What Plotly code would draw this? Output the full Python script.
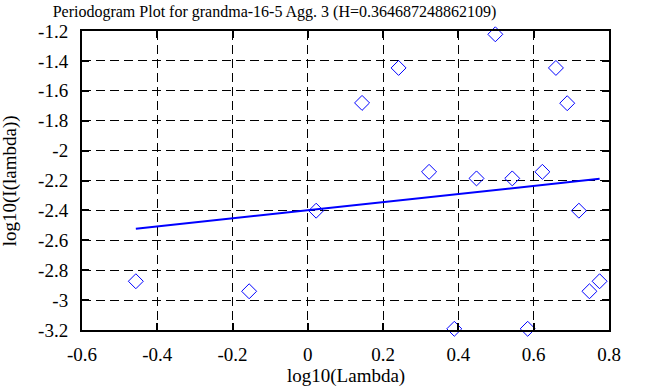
import plotly.graph_objects as go

title = "Periodogram Plot for grandma-16-5 Agg. 3 (H=0.364687248862109)"
x_label = "log10(Lambda)"
y_label = "log10(I(lambda))"

log_lambda = [-0.457, -0.156, 0.022, 0.144, 0.241, 0.322, 0.389, 0.448, 0.498,
              0.543, 0.584, 0.623, 0.659, 0.689, 0.720, 0.748, 0.775]
log_I = [-2.874, -2.941, -2.402, -1.681, -1.447, -2.142, -3.192, -2.186, -1.222,
         -2.186, -3.192, -2.142, -1.447, -1.683, -2.402, -2.941, -2.874]

fit_x = [-0.457, 0.775]
fit_y = [-2.522, -2.189]

x_ticks = [-0.6, -0.4, -0.2, 0, 0.2, 0.4, 0.6, 0.8]
x_ticktext = ["-0.6", "-0.4", "-0.2", "0", "0.2", "0.4", "0.6", "0.8"]
y_ticks = [-3.2, -3, -2.8, -2.6, -2.4, -2.2, -2, -1.8, -1.6, -1.4, -1.2]
y_ticktext = ["-3.2", "-3", "-2.8", "-2.6", "-2.4", "-2.2", "-2", "-1.8", "-1.6", "-1.4", "-1.2"]

FONT = "Liberation Serif, Times New Roman, serif"
TICK_SIZE = 19

fig = go.Figure()
fig.add_trace(go.Scatter(x=log_lambda, y=log_I, mode="markers",
                         marker=dict(symbol="diamond-open", size=11.5, color="#0000ff",
                                     line=dict(width=1, color="#0000ff")),
                         cliponaxis=False, showlegend=False))
fig.add_trace(go.Scatter(x=fit_x, y=fit_y, mode="lines",
                         line=dict(color="#0000ff", width=2), showlegend=False))

axis_common = dict(showline=True, linecolor="black", linewidth=2, mirror="allticks",
                   ticks="inside", ticklen=7, tickcolor="black", tickwidth=2,
                   showgrid=True, gridcolor="black", gridwidth=1, griddash="9px,5px",
                   zeroline=False, automargin=False,
                   tickfont=dict(family=FONT, size=TICK_SIZE, color="black"))

fig.update_xaxes(range=[-0.6, 0.8], tickvals=x_ticks, ticktext=x_ticktext,
                 ticklabelstandoff=6, **axis_common)
fig.update_yaxes(range=[-3.2, -1.2], tickvals=y_ticks, ticktext=y_ticktext,
                 ticklabelstandoff=8, **axis_common)

fig.update_layout(
    width=663, height=387,
    margin=dict(l=82, r=54, t=31, b=56.5),
    paper_bgcolor="white", plot_bgcolor="white",
    title=dict(text=title, x=0.414, xanchor="center", y=0.985, yanchor="top",
               font=dict(family=FONT, size=16, color="black")),
    annotations=[
        dict(text=x_label, xref="paper", yref="paper", x=0.5, y=-0.155,
             xanchor="center", yanchor="middle", showarrow=False,
             font=dict(family=FONT, size=TICK_SIZE, color="black")),
        dict(text=y_label, xref="paper", yref="paper", x=-0.137, y=0.5,
             xanchor="center", yanchor="middle", textangle=-90, showarrow=False,
             font=dict(family=FONT, size=TICK_SIZE, color="black")),
    ],
)

fig.write_html("out.html", config={"displayModeBar": False},
               post_script="document.body.style.margin='0';")
